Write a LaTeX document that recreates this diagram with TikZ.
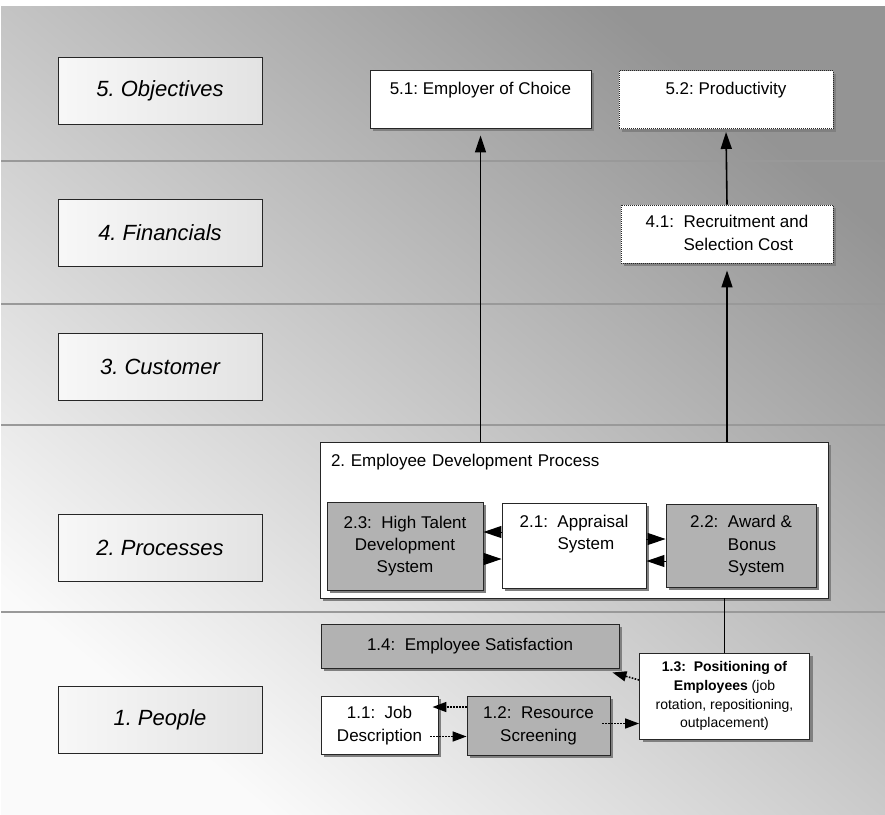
\documentclass[tikz,border=0pt]{standalone}
\usepackage{fontspec}
\setmainfont{Liberation Sans}
\usetikzlibrary{arrows.meta,shadows,calc}
\begin{document}
\frenchspacing
\begin{tikzpicture}[x=1pt,y=-1pt,
  lane/.style={draw=black!40, line width=1.4pt},
  lanebox/.style={draw=black!85, line width=0.9pt, left color=white!97!black,
    right color=white!89!black, minimum width=204pt, minimum height=67pt,
    inner sep=0pt, font=\fontsize{22}{26}\selectfont\itshape},
  box/.style={draw=black!85, line width=0.9pt, fill=white, inner sep=0pt,
    font=\fontsize{17}{22}\selectfont,
    drop shadow={shadow xshift=3pt, shadow yshift=-3pt, fill=black!50, opacity=1}},
  graybox/.style={box, fill=black!30},
  dotbox/.style={box, dash pattern=on 1pt off 1pt},
  topbox/.style={inner ysep=6pt, text height=18pt},
  arr/.style={-{Triangle[length=17pt,width=11pt]}, line width=1.6pt},
  link/.style={line width=1.6pt},
  swap/.style={-{Triangle[length=18pt,width=12pt]}, line width=1pt},
  darr/.style={-{Triangle[length=14pt,width=10pt]}, line width=1.6pt,
    dash pattern=on 1.6pt off 1.4pt}
]
\useasboundingbox (0,0) rectangle (885,814);
% background: light in the lower left, darkening towards the upper right
\fill[white] (0,0) rectangle (885,814);
\shade[top color=black!42, bottom color=white!98!black, shading angle=-40]
  (1,6) rectangle (885,814);
\foreach \yy in {161,304,425,612} \draw[lane] (1,\yy) -- (885,\yy);

% lane titles
\node[lanebox] (L5) at (160,90.5) {5. Objectives};
\node[lanebox] (L4) at (160,232.5) {4. Financials};
\node[lanebox] (L3) at (160,366.5) {3. Customer};
\node[lanebox] (L2) at (160,548) {2. Processes};
\node[lanebox] (L1) at (160,719.5) {1. People};

% objectives and financials
\node[box, topbox, text depth=28pt, minimum width=221pt] (e51) at (480.5,99)
  {5.1: Employer of Choice};
\node[dotbox, topbox, text depth=28pt, minimum width=214pt] (e52) at (726,99.5)
  {5.2: Productivity};
\node[dotbox, minimum width=212pt, minimum height=58pt,
  font=\fontsize{17}{23}\selectfont] (f41) at (727,234)
  {\begin{tabular}{@{}l@{\hspace{9.5pt}}l@{}}4.1: & Recruitment and\\ & Selection Cost\end{tabular}};

% process container
\node[box, minimum width=508pt, text width=486pt, align=left, inner xsep=11pt,
  inner ysep=6pt, text height=18pt, text depth=126pt] (proc) at (574,520)
  {2. Employee Development Process};
\node[graybox, minimum width=156pt, minimum height=88pt] (n23) at (405,546)
  {\begin{tabular}{@{}c@{}}2.3:\ \ High Talent\\Development\\System\end{tabular}};
\node[box, topbox, text depth=55pt, minimum width=144pt] (n21) at (574,545.5)
  {\begin{tabular}[t]{@{}l@{\hspace{9.5pt}}l@{}}2.1: & Appraisal\\ & System\end{tabular}};
\node[graybox, minimum width=150pt, minimum height=83pt,
  font=\fontsize{17}{22.5}\selectfont] (n22) at (741,545.5)
  {\begin{tabular}{@{}l@{\hspace{9.5pt}}l@{}}2.2: & Award \&\\ & Bonus\\ & System\end{tabular}};

% people
\node[graybox, minimum width=298pt, minimum height=44pt] (n14) at (470,646)
  {1.4:\ \ Employee Satisfaction};
\node[box, minimum width=117pt, minimum height=58pt,
  font=\fontsize{17}{23}\selectfont] (n11) at (379.5,725)
  {\begin{tabular}{@{}c@{}}1.1:\ \ Job\\Description\end{tabular}};
\node[graybox, minimum width=143pt, minimum height=59pt,
  font=\fontsize{17}{23}\selectfont] (n12) at (538.5,725.5)
  {\begin{tabular}{@{}c@{}}1.2:\ \ Resource\\Screening\end{tabular}};
\node[box, minimum width=170pt, minimum height=86pt,
  font=\fontsize{14}{18.7}\selectfont] (n13) at (724.5,696)
  {\begin{tabular}{@{}c@{}}\textbf{1.3:\ \ Positioning of}\\\textbf{Employees} (job\\rotation, repositioning,\\outplacement)\end{tabular}};

% upward links
\draw[arr, shorten >=7pt] (proc.north -| e51.south) -- (e51.south);
\draw[arr, shorten >=7pt] (proc.north -| f41.south) -- (f41.south);
\draw[arr, shorten >=3pt] (f41.north) -- (e52.south);
\draw[link] (n13.north) -- (n13.north |- proc.south);

% links inside the process
\draw[swap] ($(n21.west)+(0,-13.5)$) -- ($(n21.west -| n23.east)+(0,-13.5)$);
\draw[swap] ($(n23.east |- n21.west)+(0,13.5)$) -- ($(n21.west)+(0,13.5)$);
\draw[swap] ($(n21.east)+(0,-6.5)$) -- ($(n21.east -| n22.west)+(0,-6.5)$);
\draw[swap] ($(n22.west |- n21.east)+(0,15.5)$) -- ($(n21.east)+(0,15.5)$);

% dotted links among people items
\draw[darr] ($(n12.west)+(0,-18.5)$) -- ($(n12.west -| n11.east)+(-6,-18.5)$);
\draw[darr] ($(n11.east)+(-8,11.5)$) -- ($(n11.east -| n12.west)+(0,11.5)$);
\draw[darr] ($(n12.east)+(-8,-2)$) -- ($(n12.east -| n13.west)+(0,-2)$);
\draw[darr] ($(n13.west)+(0,-16)$) -- ($(n14.south east)+(-7,4)$);
\end{tikzpicture}
\end{document}
